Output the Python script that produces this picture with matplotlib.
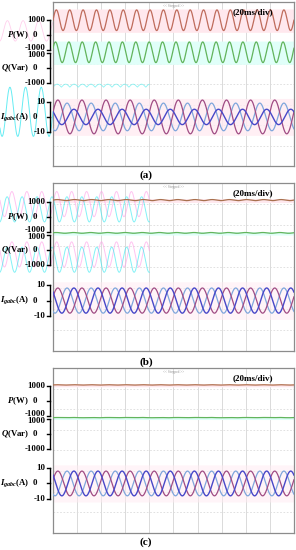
import numpy as np
import matplotlib
matplotlib.use('Agg')
import matplotlib.pyplot as plt

plt.rcParams['font.family'] = ['Liberation Serif', 'DejaVu Serif']
plt.rcParams['mathtext.fontset'] = 'custom'
plt.rcParams['mathtext.rm'] = 'Liberation Serif:bold'
plt.rcParams['mathtext.it'] = 'Liberation Serif:italic:bold'
plt.rcParams['mathtext.bf'] = 'Liberation Serif:bold'

# values read from the scope shots (a), (b), (c)
panels = ['(a)', '(b)', '(c)']
p_mean = [1000, 1100, 1080]      # W
p_ripple = [700, 35, 10]         # W
p_cycles = [18, 14, 14]
q_mean = [1050, 1150, 1100]      # Var
q_ripple = [700, 25, 8]          # Var
q_cycles = [18, 14, 14]
ia_amp = [11, 8, 8]              # A
ib_amp = [5, 8, 8]
ic_amp = [9, 8, 8]
i_cycles = [10, 10, 10]
p_ticks = [1000, 0, -1000]
q_ticks = [1000, 0, -1000]
i_ticks = [10, 0, -10]
timebase = '(20ms/div)'
p_colors = ['#bf6c5c', '#a8704e', '#b0704e']

# screen layout (divisions), offsets and scales of each channel
P0, Q0, I0 = 6.4, 4.8, 2.4
PQ_SC = 0.72 / 1000
I_SC = 0.075
t = np.linspace(0, 10, 2000)

fig = plt.figure(figsize=(2.96, 5.5), dpi=100)
boxes = [(0.698, 0.298), (0.362, 0.305), (0.031, 0.300)]
lab_y = [0.682, 0.342, 0.0145]

for k in range(3):
    ax = fig.add_axes([0.179, boxes[k][0], 0.814, boxes[k][1]])
    ax.set_xlim(0, 10)
    ax.set_ylim(0, 8)
    ax.set_xticks([])
    ax.set_yticks([])
    for s in ax.spines.values():
        s.set_color('#8c8c8c')
        s.set_linewidth(0.9)
    for gx in range(1, 10):
        ax.axvline(gx, color='#d4d4d4', lw=0.6, zorder=0)
    for gy in range(1, 8):
        ax.axhline(gy, color='#dcdcdc', lw=0.6, ls=(0, (2, 2)), zorder=0)

    # shaded bands
    ax.fill_between(t, P0 + (p_mean[k] - p_ripple[k] - 120) * PQ_SC,
                    P0 + (p_mean[k] + p_ripple[k] + 60) * PQ_SC,
                    color='#ffe8ee', zorder=1, lw=0)
    ax.fill_between(t, Q0 + (q_mean[k] - q_ripple[k] - 120) * PQ_SC,
                    Q0 + (q_mean[k] + q_ripple[k] + 60) * PQ_SC,
                    color='#e0fff9', zorder=1, lw=0)
    ax.fill_between(t, I0 - 12 * I_SC, I0 + 12 * I_SC, color='#ffebf2',
                    zorder=1, lw=0, alpha=0.8 if k == 0 else 0.5)

    p = p_mean[k] + p_ripple[k] * np.sin(2 * np.pi * p_cycles[k] * t / 10)
    q = q_mean[k] + q_ripple[k] * np.sin(2 * np.pi * q_cycles[k] * t / 10 + 0.4)
    ax.plot(t, P0 + p * PQ_SC, color=p_colors[k], lw=0.9, zorder=3)
    ax.plot(t, Q0 + q * PQ_SC, color='#62b45c', lw=0.9, zorder=3)

    w = 2 * np.pi * i_cycles[k] * t / 10
    ax.plot(t, I0 + ic_amp[k] * I_SC * np.sin(w - 2.1), color='#7fa6dc', lw=0.9, zorder=3)
    ax.plot(t, I0 + ia_amp[k] * I_SC * np.sin(w + 0.3), color='#a04c84', lw=0.9, zorder=4)
    ax.plot(t, I0 + ib_amp[k] * I_SC * np.sin(w + 2.4), color='#4848c8', lw=1.0, zorder=4)

    # ghost traces left over from the screen capture
    if k == 0:
        tg = np.linspace(-2.2, 0, 200)
        ax.plot(tg, I0 + 0.25 + 1.2 * np.sin(2 * np.pi * tg / 0.65), color='#40e8f0',
                lw=0.7, alpha=0.8, clip_on=False)
        ax.plot(tg, 6.6 + 0.5 * np.sin(2 * np.pi * tg / 0.65 + 1), color='#ffb0e0',
                lw=0.6, alpha=0.6, clip_on=False)
        tg2 = np.linspace(0, 4, 300)
        ax.plot(tg2, 3.85 + 0.15 * np.abs(np.sin(2 * np.pi * tg2 / 0.7)), color='#70f0f0',
                lw=0.6, alpha=0.8, zorder=2)
    if k == 1:
        tg = np.linspace(-2.2, 4.0, 500)
        for yc in (7.0, 4.6):
            ax.plot(tg, yc + 0.6 * np.sin(2 * np.pi * tg / 0.62), color='#ff9be8',
                    lw=0.7, alpha=0.6, clip_on=False, zorder=2)
            ax.plot(tg, yc - 0.25 + 0.6 * np.sin(2 * np.pi * tg / 0.62 + 2), color='#30e8f0',
                    lw=0.7, alpha=0.6, clip_on=False, zorder=2)

    # channel scales on the left
    tr = ax.get_yaxis_transform()
    for zero, ticks, sc, name in [(P0, p_ticks, PQ_SC, r'$P$(W)'),
                                  (Q0, q_ticks, PQ_SC, r'$Q$(Var)'),
                                  (I0, i_ticks, I_SC, r'$I_{gabc}$(A)')]:
        ys = [zero + v * sc for v in ticks]
        ax.plot([-0.012, -0.012], [ys[0], ys[-1]], color='black', lw=1.0,
                transform=tr, clip_on=False)
        for j, (v, y) in enumerate(zip(ticks, ys)):
            ax.plot([-0.026, -0.012], [y, y], color='black', lw=1.0,
                    transform=tr, clip_on=False)
            if v == 0:
                ax.text(-0.075, y, '0', ha='center', va='center', fontsize=6.3,
                        fontweight='bold', transform=tr)
            else:
                dy = 0.0
                if sc == PQ_SC and zero == P0 and j == 2:
                    dy = 0.1
                if sc == PQ_SC and zero == Q0 and j == 0:
                    dy = -0.08
                ax.text(-0.032, y + dy, str(v), ha='right', va='center', fontsize=6.3,
                        fontweight='bold', transform=tr)
        ax.text(-0.1, zero, name, ha='right', va='center', fontsize=6.3,
                fontweight='bold', transform=tr)

    ax.text(0.83, 0.94, timebase, transform=ax.transAxes, ha='center', va='center',
            fontsize=6.5, fontweight='bold')
    ax.text(0.5, 0.99, '<< Stopped >>', transform=ax.transAxes, ha='center', va='top',
            fontsize=2.5, color='#909090')
    fig.text(0.493, lab_y[k], panels[k], ha='center', va='center', fontsize=8,
             fontweight='bold')

fig.savefig('out.png', dpi=100)
